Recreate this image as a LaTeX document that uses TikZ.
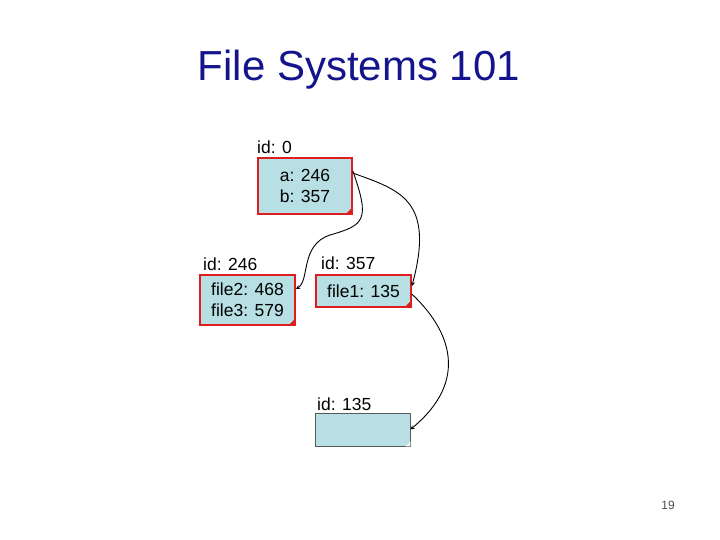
\documentclass[tikz,border=0pt]{standalone}
\usepackage{fontspec}
\setmainfont{Liberation Sans}
\usetikzlibrary{positioning}
\definecolor{boxfill}{RGB}{183,223,228}
\definecolor{boxred}{RGB}{220,30,30}
\definecolor{titleblue}{RGB}{20,20,140}
\begin{document}
\begin{tikzpicture}[x=1pt,y=-1pt,>=stealth]
% --- Layout & Styles --------------------------------------
\tikzstyle{inode}=[draw=boxred,line width=1.8pt,fill=boxfill,inner sep=0,align=center,font=\fontsize{17.5}{21}\selectfont]
\tikzstyle{idlabel}=[font=\fontsize{17.5}{21}\selectfont,inner sep=0,anchor=south west]
\tikzstyle{fold}=[fill=boxred]
\tikzstyle{link}=[->,line width=0.9pt]
\useasboundingbox (0,0) rectangle (720,540);
% --- Title ------------------------------------------------
\node (title) at (359,70) [text=titleblue,font=\fontsize{42}{46}\selectfont] {File Systems 101};
% --- Inodes -----------------------------------------------
\node (i0)[inode,minimum width=94pt,minimum height=56pt] at (305,186) {a: 246\\b: 357};
\node (i246)[inode,minimum width=95pt,minimum height=50pt] at (247.5,300) {file2: 468\\file3: 579};
\node (i357)[inode,minimum width=95pt,minimum height=32pt] at (363.5,291) {file1: 135};
\node (i135)[inode,draw=gray!70!black,line width=0.8pt,minimum width=95pt,minimum height=33pt] at (362.5,429.5) {};
% --- Folded corners ---------------------------------------
\foreach \n in {i0,i246,i357}
  \fill[fold] (\n.south east) -- ++(-8,0) -- ++(8,-8) -- cycle;
\fill[white] (i135.south east) -- ++(-5,0) -- ++(5,-5) -- cycle;
% --- Id labels --------------------------------------------
\node (l0)[idlabel] at (257,154) {id: 0};
\node (l246)[idlabel] at (203,271) {id: 246};
\node (l357)[idlabel] at (321,270) {id: 357};
\node (l135)[idlabel] at (317,411) {id: 135};
% --- Edges ------------------------------------------------
\draw [link] ([yshift=-16pt]i0.north east) .. controls (400,190) and (435,200) .. ([yshift=-12pt]i357.north east);
\draw [link] ([yshift=-14pt]i0.north east) .. controls (370,220) and (365,225) .. (330,235) .. controls (300,245) and (310,280) .. ([yshift=-15pt]i246.north east);
\draw [link] ([yshift=-20pt]i357.north east) .. controls (450,330) and (470,380) .. (i135.east);
% --- Page number ------------------------------------------
\node (page) at (668,505) [font=\fontsize{12}{14}\selectfont,text=gray!60!black] {19};
\end{tikzpicture}
\end{document}
